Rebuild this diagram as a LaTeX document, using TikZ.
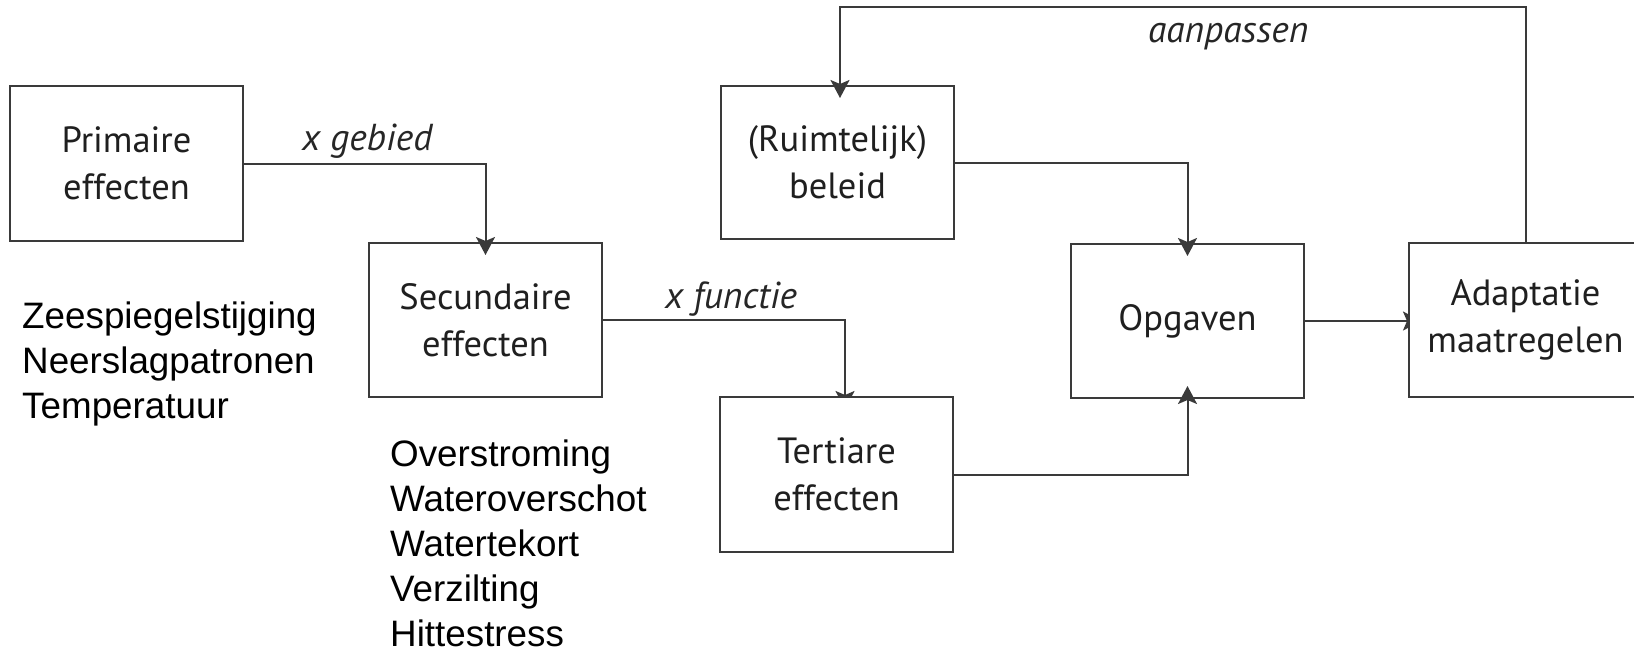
\documentclass[tikz,border=0pt]{standalone}
\usepackage{fontspec}
\setmainfont{PT Sans}
\newfontfamily\listfont{Liberation Sans}
\usetikzlibrary{arrows.meta,backgrounds}
\definecolor{edge}{HTML}{3A3A3A}
\tikzset{
  x=1pt, y=-1pt,
  box/.style n args={2}{draw=edge, fill=white, line width=2pt, minimum width=#1, minimum height=#2, inner sep=0pt, align=center, font=\fontsize{36.5}{47}\selectfont, text=black!88},
  conn/.style={draw=edge, line width=2pt, -{Stealth[length=18pt,width=19pt,inset=4pt]}, shorten >=-13pt},
  lbl/.style={font=\fontsize{37.5}{40}\itshape\selectfont, text=black!85, anchor=base west, inner sep=0pt},
  lst/.style={font=\listfont\fontsize{36.8}{45}\selectfont, anchor=base west, inner sep=0pt}
}
\begin{document}
\begin{tikzpicture}
\useasboundingbox (0,0) rectangle (1634,651);
\node[box={233pt}{155pt}] (prim) at (126.5,163.5) {Primaire\\effecten};
\node[box={233pt}{154pt}] (sec) at (485.5,320) {Secundaire\\effecten};
\node[box={233pt}{155pt}] (ter) at (836.5,474.5) {Tertiare\\effecten};
\node[box={233pt}{153pt}] (bel) at (837.5,162.5) {(Ruimtelijk)\\beleid};
\node[box={233pt}{154pt}] (opg) at (1187.5,321) {Opgaven};
\node[box={233pt}{154pt}] (ada) at (1525.5,320) {Adaptatie\\maatregelen};

\coordinate (c2) at (845,320);
\coordinate (c5) at (1526,7);
\coordinate (c6) at (840,7);

\begin{pgfonlayer}{background}
\draw[conn] (sec.east) -- (c2) -- (c2 |- ter.north);
\draw[conn] (opg.east) -- (ada.west |- opg.east);
\end{pgfonlayer}

\draw[conn] (prim.east) -| (sec.north);
\draw[conn] (ter.east) -| (opg.south);
\draw[conn] (bel.east) -| (opg.north);
\draw[conn] (c5 |- ada.north) -- (c5) -- (c6) -- (c6 |- bel.north);

\node[lbl] (l1) at (302,150) {x gebied};
\node[lbl] (l2) at (665,308) {x functie};
\node[lbl] (l3) at (1148,42) {aanpassen};

\node[lst] (p1) at (22,328) {Zeespiegelstijging};
\node[lst] (p2) at (22,373) {Neerslagpatronen};
\node[lst] (p3) at (22,418) {Temperatuur};
\node[lst] (s1) at (390,466) {Overstroming};
\node[lst] (s2) at (390,511) {Wateroverschot};
\node[lst] (s3) at (390,556) {Watertekort};
\node[lst] (s4) at (390,601) {Verzilting};
\node[lst] (s5) at (390,646) {Hittestress};
\end{tikzpicture}
\end{document}
